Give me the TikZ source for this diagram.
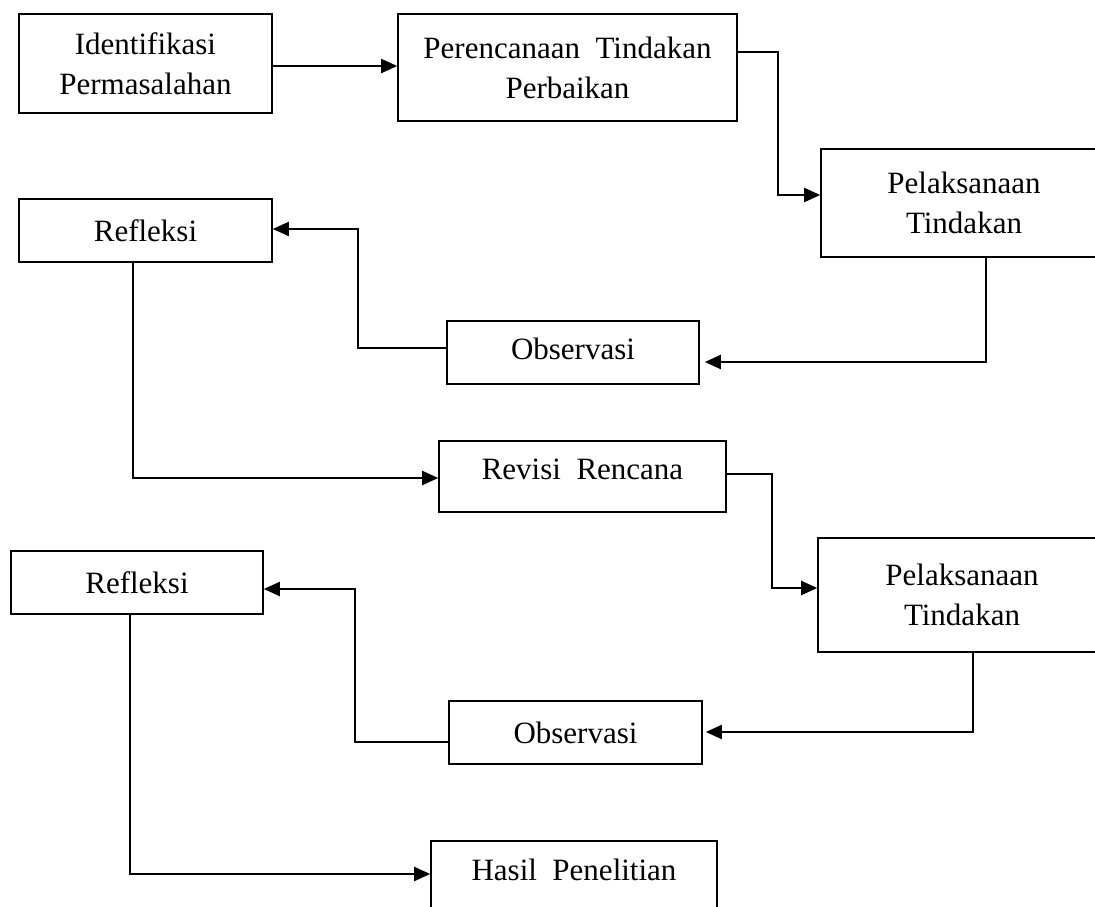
\documentclass[tikz,border=0pt]{standalone}
\usepackage{fontspec}
\setmainfont{Liberation Serif}
\usepackage{tikz}
\usetikzlibrary{positioning, arrows.meta}

\begin{document}
\begin{tikzpicture}[x=1pt, y=-1pt,
    box/.style={draw, line width=1.6pt, rectangle, align=center, inner sep=0pt,
                font=\fontsize{31pt}{40pt}\selectfont},
    flow/.style={line width=2.1pt, -{Triangle[length=16pt,width=14pt]}}]
                % Page size and white background
                \fill[white] (0,0) rectangle (1095,907);
                \useasboundingbox (0,0) rectangle (1095,907);

                % Boxes of the first cycle
                \node[box, minimum width=253pt, minimum height=99pt] (ident) at (145.5,63.5) {Identifikasi\\Permasalahan};
                \node[box, minimum width=339pt, minimum height=107pt] (rencana) at (567.5,67.5) {Perencanaan\ \ Tindakan\\Perbaikan};
                \node[box, minimum width=286pt, minimum height=108pt] (laksana1) at (964,203) {Pelaksanaan\\Tindakan};
                \node[box, minimum width=253pt, minimum height=63pt] (refl1) at (145.5,230.5) {Refleksi};
                \node[box, minimum width=252pt, minimum height=63pt, text depth=8pt] (obs1) at (573,352.5) {Observasi};

                % Boxes of the second cycle
                \node[box, minimum width=287pt, minimum height=71pt, text depth=14pt] (revisi) at (582.5,476.5) {Revisi\ \ Rencana};
                \node[box, minimum width=288pt, minimum height=114pt] (laksana2) at (962,595) {Pelaksanaan\\Tindakan};
                \node[box, minimum width=252pt, minimum height=63pt] (refl2) at (137,582.5) {Refleksi};
                \node[box, minimum width=253pt, minimum height=63pt] (obs2) at (575.5,732.5) {Observasi};
                \node[box, minimum width=286pt, minimum height=78pt, text height=21pt, text depth=21pt] (hasil) at (574,880) {Hasil\ \ Penelitian};

                % Bend points of the connectors
                \coordinate (k1a) at (778,52);
                \coordinate (k1b) at (778,195);
                \coordinate (k2) at (986,362);
                \coordinate (k3a) at (358,348);
                \coordinate (k3b) at (358,229);
                \coordinate (k4) at (133,478);
                \coordinate (k5a) at (772,474);
                \coordinate (k5b) at (772,588);
                \coordinate (k6) at (973,732);
                \coordinate (k7a) at (355,742);
                \coordinate (k7b) at (355,589);
                \coordinate (k8) at (130,874);

                % Connectors
                \draw[flow] (ident.east |- 0,66) -- (rencana.west |- 0,66);
                \draw[flow] (k1a -| rencana.east) -- (k1a) -- (k1b) -- (k1b -| laksana1.west);
                \draw[flow] (k2 |- laksana1.south) -- (k2) -- ([xshift=5pt]k2 -| obs1.east);
                \draw[flow] (k3a -| obs1.west) -- (k3a) -- (k3b) -- (k3b -| refl1.east);
                \draw[flow] (k4 |- refl1.south) -- (k4) -- (k4 -| revisi.west);
                \draw[flow] (k5a -| revisi.east) -- (k5a) -- (k5b) -- (k5b -| laksana2.west);
                \draw[flow] (k6 |- laksana2.south) -- (k6) -- ([xshift=3pt]k6 -| obs2.east);
                \draw[flow] (k7a -| obs2.west) -- (k7a) -- (k7b) -- (k7b -| refl2.east);
                \draw[flow] (k8 |- refl2.south) -- (k8) -- (k8 -| hasil.west);
            \end{tikzpicture}
\end{document}
